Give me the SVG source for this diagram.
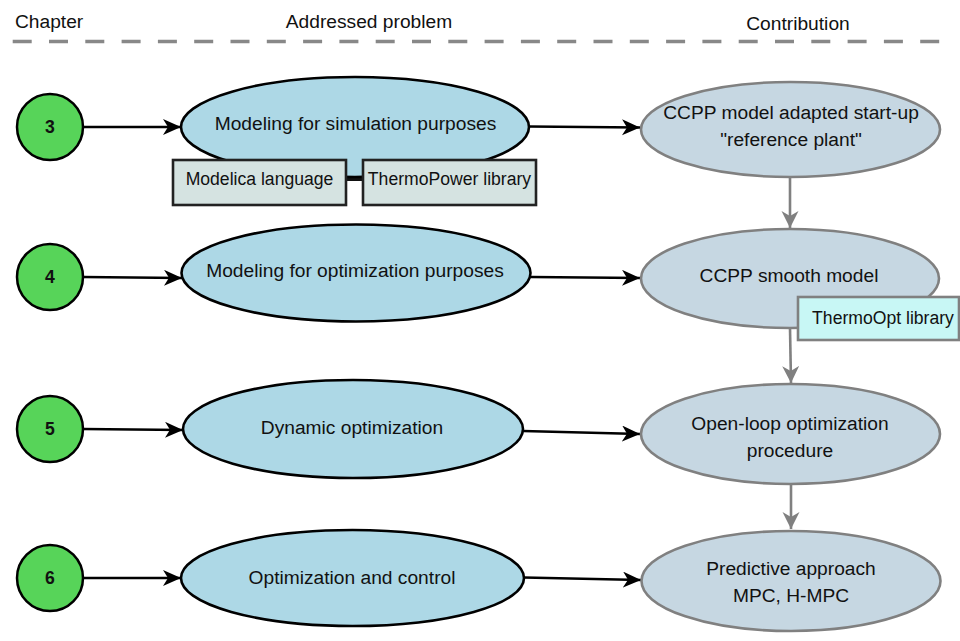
<svg xmlns="http://www.w3.org/2000/svg" width="960" height="641" viewBox="0 0 960 641">
  <style>
    text { font-family: "Liberation Sans", Arial, sans-serif; fill: #111; }
    .hdr { font-size: 19.2px; }
    .lbl { font-size: 19.2px; text-anchor: middle; }
    .box-lbl { font-size: 17.6px; text-anchor: middle; }
    .num { font-size: 17.6px; font-weight: bold; text-anchor: middle; }
    .chapter { fill: #57d459; stroke: #000; stroke-width: 2.5; }
    .problem { fill: #add8e6; stroke: #000; stroke-width: 2.6; }
    .result { fill: #c6d7e2; stroke: #808080; stroke-width: 2.6; }
    .tool { fill: #d5e3e1; stroke: #222; stroke-width: 2.6; }
    .lib { fill: #c8f7f5; stroke: #808080; stroke-width: 2.6; }
    .flow { fill: none; stroke: #000; stroke-width: 2.6; }
    .chain { fill: none; stroke: #808080; stroke-width: 2.6; }
  </style>
  <defs>
    <marker id="arrow-black" markerUnits="userSpaceOnUse" markerWidth="20" markerHeight="18" refX="18" refY="8" orient="auto">
      <path d="M0,0 L18,8 L0,16 L5,8 Z" fill="#000"/>
    </marker>
    <marker id="arrow-gray" markerUnits="userSpaceOnUse" markerWidth="20" markerHeight="18" refX="17" refY="8.5" orient="auto">
      <path d="M0,0 L17,8.5 L0,17 L5,8.5 Z" fill="#808080"/>
    </marker>
  </defs>

  <!-- column headings -->
  <g id="header">
    <text class="hdr" x="15" y="28">Chapter</text>
    <text class="hdr" x="369" y="28" text-anchor="middle">Addressed problem</text>
    <text class="hdr" x="798" y="30" text-anchor="middle">Contribution</text>
    <line x1="12.7" y1="41.5" x2="940" y2="41.5" stroke="#888" stroke-width="3.6" stroke-dasharray="19 17.3"/>
  </g>

  <!-- connectors -->
  <g id="connectors">
    <line class="flow" x1="83" y1="127" x2="181" y2="127" marker-end="url(#arrow-black)"/>
    <line class="flow" x1="83" y1="277" x2="182" y2="278" marker-end="url(#arrow-black)"/>
    <line class="flow" x1="83" y1="429" x2="183" y2="430" marker-end="url(#arrow-black)"/>
    <line class="flow" x1="83" y1="578" x2="181" y2="578" marker-end="url(#arrow-black)"/>

    <line class="flow" x1="529" y1="126.5" x2="640" y2="127.5" marker-end="url(#arrow-black)"/>
    <line class="flow" x1="531" y1="277" x2="640" y2="278" marker-end="url(#arrow-black)"/>
    <line class="flow" x1="523" y1="431" x2="640" y2="434" marker-end="url(#arrow-black)"/>
    <line class="flow" x1="524" y1="577.5" x2="641" y2="580" marker-end="url(#arrow-black)"/>

    <line class="chain" x1="790" y1="177" x2="790" y2="228" marker-end="url(#arrow-gray)"/>
    <line class="chain" x1="790" y1="328" x2="791" y2="383" marker-end="url(#arrow-gray)"/>
    <line class="chain" x1="791" y1="485" x2="791" y2="529" marker-end="url(#arrow-gray)"/>

    <!-- link between the two tool boxes -->
    <rect x="346" y="178" width="17" height="3" fill="#111"/>
  </g>

  <!-- chapters -->
  <g id="chapter-3">
    <circle class="chapter" cx="50" cy="127" r="33"/>
    <text class="num" x="50" y="133">3</text>
  </g>
  <g id="chapter-4">
    <circle class="chapter" cx="50" cy="277" r="33"/>
    <text class="num" x="50" y="283">4</text>
  </g>
  <g id="chapter-5">
    <circle class="chapter" cx="50" cy="429" r="33"/>
    <text class="num" x="50" y="435">5</text>
  </g>
  <g id="chapter-6">
    <circle class="chapter" cx="50" cy="578" r="33"/>
    <text class="num" x="50" y="584">6</text>
  </g>

  <!-- addressed problems -->
  <g id="problem-simulation">
    <ellipse class="problem" cx="355" cy="127" rx="174" ry="50"/>
    <text class="lbl" x="355.5" y="129.5">Modeling for simulation purposes</text>
  </g>
  <g id="tool-modelica">
    <rect class="tool" x="173" y="160" width="173" height="45"/>
    <text class="box-lbl" x="259.5" y="185">Modelica language</text>
  </g>
  <g id="tool-thermopower">
    <rect class="tool" x="363" y="160" width="173" height="45"/>
    <text class="box-lbl" x="449.5" y="185">ThermoPower library</text>
  </g>
  <g id="problem-optimization-model">
    <ellipse class="problem" cx="356" cy="273" rx="174.5" ry="48.5"/>
    <text class="lbl" x="355" y="277">Modeling for optimization purposes</text>
  </g>
  <g id="problem-dynamic-optimization">
    <ellipse class="problem" cx="353" cy="429" rx="170" ry="49"/>
    <text class="lbl" x="352" y="434">Dynamic optimization</text>
  </g>
  <g id="problem-control">
    <ellipse class="problem" cx="352.5" cy="578" rx="171.5" ry="48"/>
    <text class="lbl" x="352" y="584">Optimization and control</text>
  </g>

  <!-- contributions -->
  <g id="result-reference-plant">
    <ellipse class="result" cx="790.5" cy="129.5" rx="149.5" ry="47.5"/>
    <text class="lbl" x="791" y="119">CCPP model adapted start-up</text>
    <text class="lbl" x="791" y="146">"reference plant"</text>
  </g>
  <g id="result-smooth-model">
    <ellipse class="result" cx="790" cy="278.5" rx="149" ry="49.5"/>
    <text class="lbl" x="789" y="281.5">CCPP smooth model</text>
  </g>
  <g id="lib-thermoopt">
    <rect class="lib" x="798" y="297" width="161" height="43"/>
    <text class="box-lbl" x="883" y="324">ThermoOpt library</text>
  </g>
  <g id="result-open-loop">
    <ellipse class="result" cx="790.5" cy="434" rx="149.5" ry="50"/>
    <text class="lbl" x="790" y="430">Open-loop optimization</text>
    <text class="lbl" x="790" y="457">procedure</text>
  </g>
  <g id="result-predictive">
    <ellipse class="result" cx="791" cy="581" rx="149.5" ry="50"/>
    <text class="lbl" x="791" y="574.5">Predictive approach</text>
    <text class="lbl" x="791" y="602">MPC, H-MPC</text>
  </g>
</svg>
